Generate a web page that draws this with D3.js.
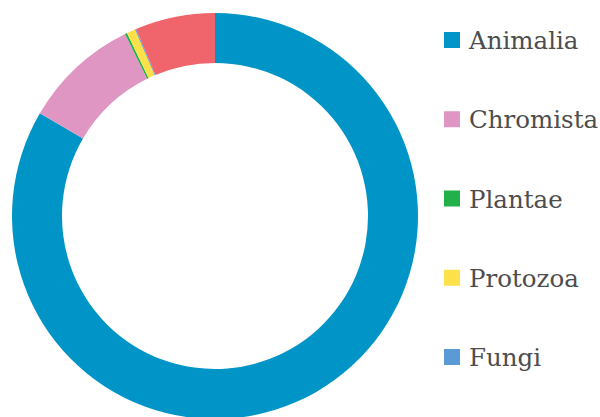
<!DOCTYPE html>
<html>
<head>
<meta charset="utf-8">
<script src="https://cdn.jsdelivr.net/npm/d3@7"></script>
<style>
    body { margin: 0; background: #fff; }
    svg { display: block; }
</style>
</head>
<body>
<svg id="chart" width="600" height="417"></svg>
<script>
// kingdoms, share of records (%)
var kingdoms = ["Animalia", "Chromista", "Plantae", "Protozoa", "Fungi", "Other"];
var shares = [83.45, 9.25, 0.17, 0.7, 0.08, 6.36];
var colours = ["#0095c6", "#e096c2", "#22b04b", "#fde14a", "#5b9bd5", "#f0646c"];
var legendItems = ["Animalia", "Chromista", "Plantae", "Protozoa", "Fungi"];

var svg = d3.select("#chart");
var cx = 215, cy = 216, outerR = 203, innerR = 153;

var colour = d3.scaleOrdinal().domain(kingdoms).range(colours);

var data = kingdoms.map(function (k, i) {
    return { name: k, value: shares[i] };
});

var pie = d3.pie().sort(null).value(function (d) { return d.value; });
var arc = d3.arc().innerRadius(innerR).outerRadius(outerR);

svg.append("g")
    .attr("transform", "translate(" + [cx, cy] + ")")
    .selectAll("path")
    .data(pie(data))
    .enter()
    .append("path")
    .attr("d", arc)
    .style("fill", function (d) { return colour(d.data.name); });

// legend
var legendY = d3.scalePoint().domain(legendItems).range([40, 357]);

var legend = svg.append("g")
    .selectAll("g")
    .data(legendItems)
    .enter()
    .append("g")
    .attr("transform", function (d) { return "translate(444," + legendY(d) + ")"; });

legend.append("rect")
    .attr("x", 0)
    .attr("y", -8)
    .attr("width", 16)
    .attr("height", 16)
    .style("fill", function (d) { return colour(d); });

legend.append("text")
    .attr("x", 25)
    .attr("y", 9)
    .style("font-family", "'DejaVu Serif', serif")
    .style("font-size", "24.5px")
    .style("fill", "#4d4d4d")
    .text(function (d) { return d; });
</script>
</body>
</html>
